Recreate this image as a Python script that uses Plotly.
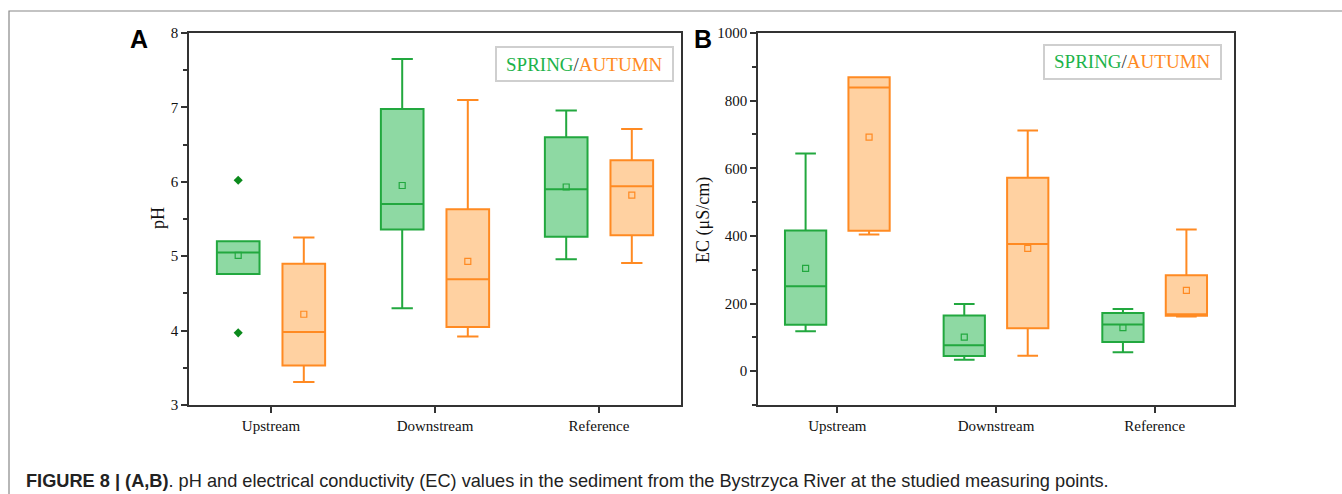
import plotly.graph_objects as go

W, H = 1342, 494

categories = ["Upstream", "Downstream", "Reference"]

# pH (panel A)
ph_spring_q1 = [4.76, 5.36, 5.26]
ph_spring_median = [5.05, 5.70, 5.90]
ph_spring_q3 = [5.20, 6.98, 6.60]
ph_spring_low = [4.76, 4.30, 4.96]
ph_spring_high = [5.20, 7.65, 6.96]
ph_spring_mean = [5.01, 5.95, 5.93]
ph_spring_outlier_cat = [0, 0]
ph_spring_outlier_val = [6.02, 3.97]

ph_autumn_q1 = [3.53, 4.05, 5.28]
ph_autumn_median = [3.98, 4.69, 5.94]
ph_autumn_q3 = [4.90, 5.63, 6.29]
ph_autumn_low = [3.31, 3.92, 4.91]
ph_autumn_high = [5.25, 7.10, 6.71]
ph_autumn_mean = [4.22, 4.93, 5.82]

# EC (panel B)
ec_spring_q1 = [137, 45, 86]
ec_spring_median = [251, 77, 138]
ec_spring_q3 = [416, 165, 172]
ec_spring_low = [118, 34, 56]
ec_spring_high = [644, 199, 184]
ec_spring_mean = [304, 101, 129]

ec_autumn_q1 = [415, 127, 164]
ec_autumn_median = [839, 376, 168]
ec_autumn_q3 = [869, 572, 284]
ec_autumn_low = [404, 46, 162]
ec_autumn_high = [869, 712, 419]
ec_autumn_mean = [692, 363, 239]

ph_ticks = [3, 4, 5, 6, 7, 8]
ec_ticks = [0, 200, 400, 600, 800, 1000]

GREEN_LINE = "#22A83F"
GREEN_FILL = "#8ED9A3"
GREEN_TEXT = "#1DB34A"
ORANGE_LINE = "#FF8A22"
ORANGE_FILL = "#FFD1A1"
OUTLIER = "#0B8A1C"
OFF = 0.2
BW = 0.26


def px(x):
    return x / W


def py(y):
    return 1 - y / H


fig = go.Figure()


def add_boxes(xa, ya, q1, med, q3, lo, hi, mean, offset, line, fill):
    xs = [i + offset for i in range(len(categories))]
    fig.add_trace(go.Box(
        x=xs, q1=q1, median=med, q3=q3, lowerfence=lo, upperfence=hi,
        width=BW, whiskerwidth=0.5, boxpoints=False,
        line=dict(color=line, width=2), fillcolor=fill,
        xaxis=xa, yaxis=ya, showlegend=False, hoverinfo="skip"))
    fig.add_trace(go.Scatter(
        x=xs, y=mean, mode="markers",
        marker=dict(symbol="square-open", size=6, color=line, line=dict(width=1.2)),
        xaxis=xa, yaxis=ya, showlegend=False, hoverinfo="skip"))


add_boxes("x", "y", ph_spring_q1, ph_spring_median, ph_spring_q3, ph_spring_low,
          ph_spring_high, ph_spring_mean, -OFF, GREEN_LINE, GREEN_FILL)
add_boxes("x", "y", ph_autumn_q1, ph_autumn_median, ph_autumn_q3, ph_autumn_low,
          ph_autumn_high, ph_autumn_mean, OFF, ORANGE_LINE, ORANGE_FILL)
fig.add_trace(go.Scatter(
    x=[c - OFF for c in ph_spring_outlier_cat], y=ph_spring_outlier_val, mode="markers",
    marker=dict(symbol="diamond", size=7, color=OUTLIER),
    xaxis="x", yaxis="y", showlegend=False, hoverinfo="skip"))

add_boxes("x2", "y2", ec_spring_q1, ec_spring_median, ec_spring_q3, ec_spring_low,
          ec_spring_high, ec_spring_mean, -OFF, GREEN_LINE, GREEN_FILL)
add_boxes("x2", "y2", ec_autumn_q1, ec_autumn_median, ec_autumn_q3, ec_autumn_low,
          ec_autumn_high, ec_autumn_mean, OFF, ORANGE_LINE, ORANGE_FILL)

tickfont = dict(family="Liberation Serif", size=15, color="#111")
axis_line = dict(showline=True, linecolor="#333", linewidth=1.5, mirror=True,
                 zeroline=False, showgrid=False, automargin=False)

xcommon = dict(tickmode="array", tickvals=list(range(len(categories))), ticktext=categories,
               range=[-0.5, 2.5], ticks="outside", ticklen=6, tickwidth=1.5, tickcolor="#333",
               tickfont=tickfont, **axis_line)

fig.update_layout(
    template="none",
    width=W, height=H, autosize=False,
    margin=dict(l=0, r=0, t=0, b=0, pad=0, autoexpand=False),
    paper_bgcolor="white", plot_bgcolor="white",
    showlegend=False,
    xaxis=dict(domain=[px(189), px(681)], anchor="y", **xcommon),
    xaxis2=dict(domain=[px(758), px(1234)], anchor="y2", **xcommon),
    yaxis=dict(domain=[py(405), py(33)], anchor="x", range=[3, 8],
               tickmode="array", tickvals=ph_ticks, ticks="outside", ticklen=6,
               tickwidth=1.5, tickcolor="#333", tickfont=tickfont,
               minor=dict(dtick=0.5, ticks="outside", ticklen=4, tickcolor="#333", tickwidth=1.5),
               **axis_line),
    yaxis2=dict(domain=[py(405), py(33)], anchor="x2", range=[-100, 1000],
                tickmode="array", tickvals=ec_ticks, ticks="outside", ticklen=6,
                tickwidth=1.5, tickcolor="#333", tickfont=tickfont,
                minor=dict(dtick=100, tick0=0, ticks="outside", ticklen=4, tickcolor="#333", tickwidth=1.5),
                **axis_line),
)

# outer frame
fig.add_shape(type="path", xref="paper", yref="paper",
              path=f"M {px(9)},{py(494)} L {px(9)},{py(11)} L {px(1342)},{py(11)}",
              line=dict(color="#888", width=1.2))

# legend boxes
for (x0, y0, x1, y1) in [(496, 47, 673, 81), (1044, 45, 1221, 79)]:
    fig.add_shape(type="rect", xref="paper", yref="paper",
                  x0=px(x0), x1=px(x1), y0=py(y1), y1=py(y0),
                  line=dict(color="#CFCFCF", width=2), fillcolor="white")
    fig.add_annotation(xref="paper", yref="paper", x=px((x0 + x1) / 2), y=py((y0 + y1) / 2),
                       text=f"<span style='color:{GREEN_TEXT}'>SPRING</span>/"
                            f"<span style='color:{ORANGE_LINE}'>AUTUMN</span>",
                       showarrow=False, xanchor="center", yanchor="middle",
                       font=dict(family="Liberation Serif", size=19, color="#333"))

# panel letters
for letter, x in [("A", 138.5), ("B", 703)]:
    fig.add_annotation(xref="paper", yref="paper", x=px(x), y=py(39), text=f"<b>{letter}</b>",
                       showarrow=False, xanchor="center", yanchor="middle",
                       font=dict(family="Liberation Sans", size=25, color="black"))

# axis titles
fig.add_annotation(xref="paper", yref="paper", x=px(158), y=py(218), text="pH",
                   textangle=-90, showarrow=False, xanchor="center", yanchor="middle",
                   font=dict(family="Liberation Serif", size=18, color="#111"))
fig.add_annotation(xref="paper", yref="paper", x=px(703), y=py(220), text="EC (μS/cm)",
                   textangle=-90, showarrow=False, xanchor="center", yanchor="middle",
                   font=dict(family="Liberation Serif", size=18, color="#111"))

# caption
fig.add_annotation(xref="paper", yref="paper", x=px(24), y=py(481),
                   text="<b>FIGURE 8 | (A,B)</b>. pH and electrical conductivity (EC) values in the sediment "
                        "from the Bystrzyca River at the studied measuring points.",
                   showarrow=False, xanchor="left", yanchor="middle",
                   font=dict(family="Liberation Sans", size=18.2, color="#222"))

fig.write_html("out.html", config={"displayModeBar": False},
               post_script="document.body.style.margin='0';document.body.style.overflow='hidden';")
